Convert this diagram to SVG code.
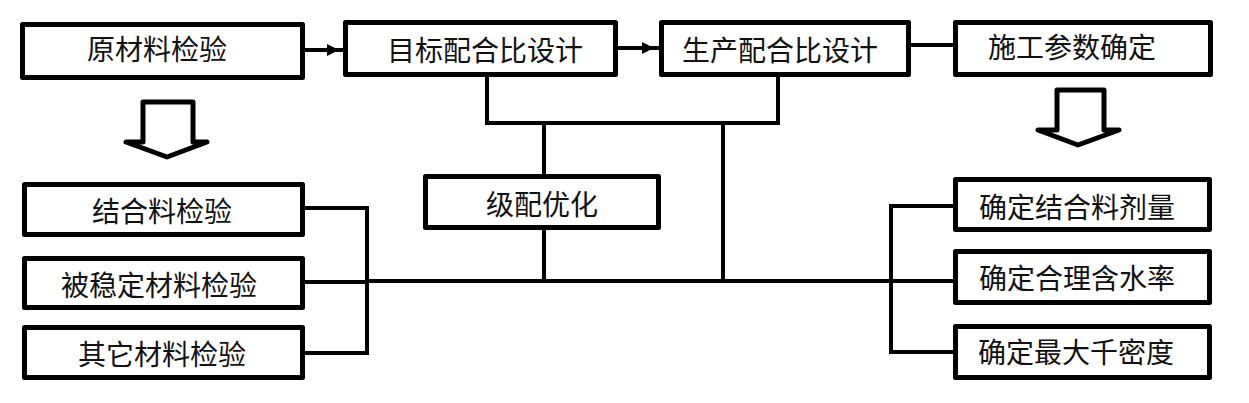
<svg xmlns="http://www.w3.org/2000/svg" width="1249" height="403" viewBox="0 0 1249 403">
<style>
.box{fill:#fff;stroke:#000;stroke-width:5;stroke-linejoin:round}
.lbl{font-family:"Noto Sans CJK SC","Noto Sans",sans-serif;font-size:28px;fill:#111;text-anchor:middle;dominant-baseline:central}
.ln{fill:none;stroke:#000;stroke-width:4;stroke-linejoin:miter}
.hollow{fill:#fff;stroke:#000;stroke-width:5;stroke-linejoin:round}
</style>
<defs>
<marker id="mid" viewBox="0 0 10 10" refX="5" refY="5" markerWidth="3" markerHeight="3" orient="auto" markerUnits="strokeWidth">
<path d="M0,0 L10,5 L0,10 z" fill="#000"/>
</marker>
</defs>
<rect width="1249" height="403" fill="#fff"/>
<g id="connectors">
<path class="ln" d="M305,50 L333,50 L343,50" marker-mid="url(#mid)"/>
<path class="ln" d="M618,48 L648,48 L659,48" marker-mid="url(#mid)"/>
<path class="ln" d="M911,45 H953"/>
<path class="ln" d="M487,77 V123 H778 V77"/>
<path class="ln" d="M544,123 V174"/>
<path class="ln" d="M544,230 V281"/>
<path class="ln" d="M723,123 V281"/>
<path class="ln" d="M305,208 H367 V353 H305"/>
<path class="ln" d="M305,282 H367"/>
<path class="ln" d="M367,281 H891"/>
<path class="ln" d="M953,206 H891 V352 H953"/>
<path class="ln" d="M891,281 H953"/>
<polygon class="hollow" points="143,102 193,102 193,142 207,142 167,157 126,142 143,142"/>
<polygon class="hollow" points="1057,90 1104,90 1104,130 1119,130 1078,145 1038,130 1057,130"/>
</g>
<g id="n1"><rect class="box" x="22.5" y="24.5" width="280" height="53"/><text class="lbl" x="157" y="48">原材料检验</text></g>
<g id="n2"><rect class="box" x="345.5" y="22.5" width="270" height="52"/><text class="lbl" x="485" y="49">目标配合比设计</text></g>
<g id="n3"><rect class="box" x="661.5" y="22.5" width="247" height="52"/><text class="lbl" x="780" y="49">生产配合比设计</text></g>
<g id="n4"><rect class="box" x="955.5" y="22.5" width="255" height="52"/><text class="lbl" x="1072" y="46">施工参数确定</text></g>
<g id="n5"><rect class="box" x="425.5" y="176.5" width="233" height="51"/><text class="lbl" x="542" y="203">级配优化</text></g>
<g id="n6"><rect class="box" x="24.5" y="184.5" width="278" height="50"/><text class="lbl" x="162" y="210">结合料检验</text></g>
<g id="n7"><rect class="box" x="24.5" y="258.5" width="278" height="49"/><text class="lbl" x="159" y="284">被稳定材料检验</text></g>
<g id="n8"><rect class="box" x="24.5" y="327.5" width="278" height="50"/><text class="lbl" x="162" y="353">其它材料检验</text></g>
<g id="n9"><rect class="box" x="955.5" y="179.5" width="254" height="50"/><text class="lbl" x="1077" y="206">确定结合料剂量</text></g>
<g id="n10"><rect class="box" x="955.5" y="251.5" width="254" height="51"/><text class="lbl" x="1077" y="277">确定合理含水率</text></g>
<g id="n11"><rect class="box" x="955.5" y="326.5" width="254" height="51"/><text class="lbl" x="1076" y="351">确定最大千密度</text></g>
</svg>
